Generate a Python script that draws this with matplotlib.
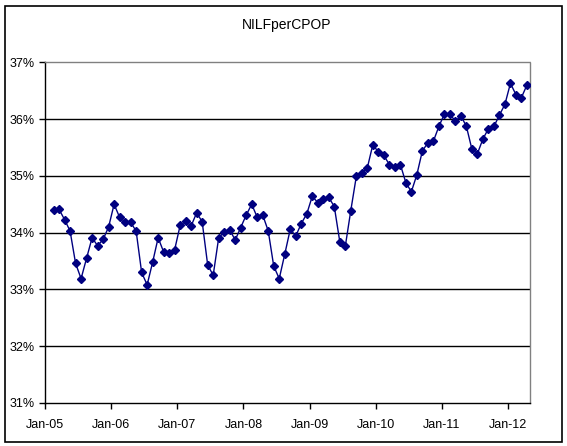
#!/usr/bin/env python3
"""
Recreate the Excel-style NILFperCPOP line chart (monthly, Feb-05 to Apr-12).
"""
import matplotlib
matplotlib.use("Agg")
import matplotlib.pyplot as plt
from matplotlib.patches import Rectangle


TITLE = "NILFperCPOP"
# months since Jan-05 (Feb-05 = 1 ... Apr-12 = 87)
MONTHS = list(range(1, 88))
VALUES = [
    # 2005 (Feb-Dec)
    34.40, 34.41, 34.23, 34.03, 33.46, 33.19, 33.55, 33.91, 33.77, 33.88, 34.10,
    # 2006
    34.50, 34.27, 34.19, 34.18, 34.03, 33.30, 33.08, 33.48, 33.91, 33.66, 33.64, 33.70,
    # 2007
    34.13, 34.20, 34.12, 34.35, 34.19, 33.43, 33.25, 33.91, 34.01, 34.05, 33.87, 34.09,
    # 2008
    34.31, 34.50, 34.27, 34.31, 34.03, 33.41, 33.19, 33.62, 34.06, 33.94, 34.16, 34.33,
    # 2009
    34.64, 34.53, 34.60, 34.62, 34.46, 33.84, 33.76, 34.39, 34.99, 35.05, 35.14, 35.55,
    # 2010
    35.42, 35.36, 35.20, 35.15, 35.20, 34.88, 34.72, 35.02, 35.44, 35.58, 35.61, 35.87,
    # 2011
    36.09, 36.09, 35.96, 36.06, 35.87, 35.47, 35.39, 35.65, 35.83, 35.87, 36.07, 36.26,
    # 2012 (Jan-Apr)
    36.63, 36.43, 36.38, 36.60,
]
X_TICKS = [0, 12, 24, 36, 48, 60, 72, 84]
X_LABELS = ["Jan-05", "Jan-06", "Jan-07", "Jan-08", "Jan-09", "Jan-10", "Jan-11", "Jan-12"]
Y_TICKS = [31, 32, 33, 34, 35, 36, 37]
Y_LABELS = ["31%", "32%", "33%", "34%", "35%", "36%", "37%"]

NAVY = "#000080"


def main():
    plt.rcParams["font.family"] = ["Liberation Sans", "DejaVu Sans"]

    W, H = 567, 446
    fig = plt.figure(figsize=(W / 100, H / 100), dpi=100)
    fig.patch.set_facecolor("white")

    # chart area border
    fig.patches.append(Rectangle((4.5 / W, 1 - 441.5 / H), 557 / W, 436 / H,
                                 transform=fig.transFigure, fill=False,
                                 edgecolor="black", linewidth=1.2))

    left, right, top, bottom = 45.3, 529.7, 62.3, 403.0
    ax = fig.add_axes([left / W, 1 - bottom / H, (right - left) / W, (bottom - top) / H])

    # category axis: points sit in the middle of each month slot
    xs = [m + 0.5 for m in MONTHS]
    ax.plot(xs, VALUES, color=NAVY, linewidth=1.0, marker="D",
            markersize=4.2, markerfacecolor=NAVY, markeredgecolor=NAVY, zorder=3)

    for y in Y_TICKS[1:-1]:
        ax.axhline(y, color="black", linewidth=1.0, zorder=1)

    ax.set_xlim(0, 88)
    ax.set_ylim(31, 37)
    ax.set_xticks(X_TICKS)
    ax.set_xticklabels(X_LABELS)
    ax.set_yticks(Y_TICKS)
    ax.set_yticklabels(Y_LABELS)
    ax.tick_params(axis="both", direction="out", length=4, width=1,
                   labelsize=9, colors="black")
    ax.tick_params(axis="x", pad=7.5)
    ax.tick_params(axis="y", pad=4)

    for side in ("left", "bottom"):
        ax.spines[side].set_color("black")
        ax.spines[side].set_linewidth(1.0)
    for side in ("top", "right"):
        ax.spines[side].set_color("#808080")
        ax.spines[side].set_linestyle((0, (1, 1)))
        ax.spines[side].set_linewidth(1.0)

    fig.text(286.7 / W, 1 - 25 / H, TITLE, ha="center", va="center", fontsize=10)

    fig.savefig("out.png", dpi=100)
    plt.close(fig)


if __name__ == "__main__":
    main()
